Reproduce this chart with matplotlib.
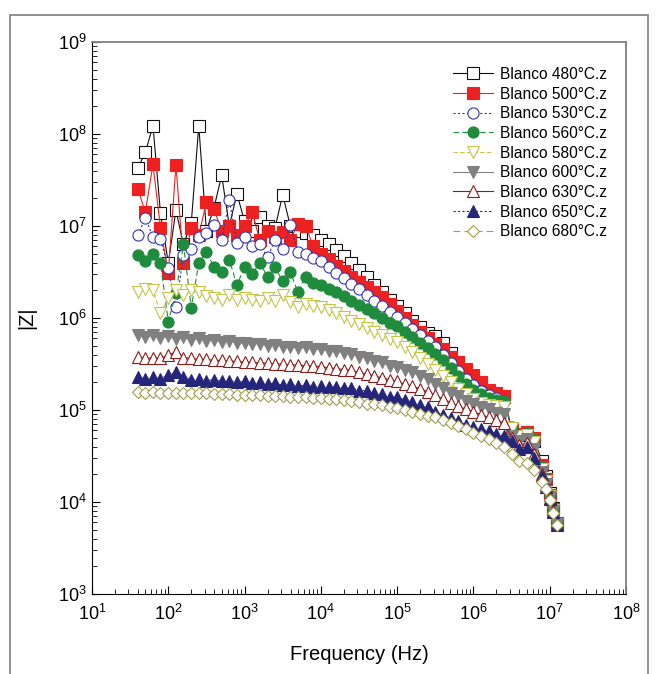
import numpy as np
import matplotlib
matplotlib.use('Agg')
import matplotlib.pyplot as plt
from matplotlib.patches import Rectangle

plt.rcParams['font.family'] = ['Liberation Sans', 'DejaVu Sans']
plt.rcParams['mathtext.default'] = 'regular'

#frequency grid (Hz), shared by all samples
freq = [40, 50, 63, 79, 100, 126, 158, 200, 251, 316, 398, 501, 631, 794,
        1.0e3, 1.26e3, 1.58e3, 2.0e3, 2.51e3, 3.16e3, 3.98e3, 5.01e3, 6.31e3, 7.94e3,
        1.0e4, 1.26e4, 1.58e4, 2.0e4, 2.51e4, 3.16e4, 3.98e4, 5.01e4, 6.31e4, 7.94e4,
        1.0e5, 1.26e5, 1.58e5, 2.0e5, 2.51e5, 3.16e5, 3.98e5, 5.01e5, 6.31e5, 7.94e5,
        1.0e6, 1.26e6, 1.58e6, 2.0e6, 2.51e6,
        3.16e6, 3.98e6, 5.01e6, 6.31e6, 7.94e6, 8.91e6, 1.0e7, 1.12e7, 1.26e7]

#log10 |Z|
z480 = [7.63, 7.80, 8.09, 7.14, 6.60, 7.17, 6.80, 7.03, 8.09, 6.95, 7.20, 7.55, 7.00, 7.35,
        7.05, 6.95, 7.10, 7.00, 6.98, 7.34, 7.00, 6.95, 6.92, 6.90,
        6.85, 6.80, 6.74, 6.67, 6.60, 6.52, 6.45, 6.36, 6.28, 6.20,
        6.13, 6.05, 5.97, 5.90, 5.84, 5.80, 5.73, 5.62, 5.52, 5.44,
        5.36, 5.27, 5.19, 5.16, 5.14,
        4.78, 4.73, 4.74, 4.66, 4.45, 4.28, 4.10, 3.93, 3.77]
z500 = [7.40, 7.15, 7.67, 6.98, 6.49, 7.66, 6.60, 6.98, 6.90, 7.26, 7.18, 6.95, 7.00, 6.90,
        7.00, 7.15, 6.85, 6.95, 6.88, 6.93, 6.85, 7.02, 7.00, 6.78,
        6.70, 6.64, 6.57, 6.51, 6.45, 6.39, 6.34, 6.28, 6.23, 6.15,
        6.08, 6.00, 5.92, 5.85, 5.78, 5.72, 5.66, 5.58, 5.52, 5.45,
        5.38, 5.30, 5.22, 5.18, 5.15,
        4.80, 4.74, 4.76, 4.70, 4.40, 4.25, 4.08, 3.92, 3.77]
z530 = [6.90, 7.09, 6.88, 6.86, 6.54, 6.12, 6.68, 6.75, 6.88, 6.92, 7.01, 6.85, 7.28, 6.82,
        6.88, 6.78, 6.80, 6.66, 6.85, 6.75, 7.01, 6.72, 6.70, 6.65,
        6.62, 6.55, 6.49, 6.43, 6.37, 6.31, 6.25, 6.19, 6.13, 6.07,
        6.01, 5.95, 5.88, 5.82, 5.75, 5.68, 5.60, 5.51, 5.42, 5.34,
        5.27, 5.21, 5.16, 5.13, 5.10,
        4.79, 4.72, 4.73, 4.66, 4.38, 4.24, 4.07, 3.91, 3.76]
z560 = [6.68, 6.62, 6.70, 6.60, 5.96, 6.27, 6.80, 6.11, 6.60, 6.72, 6.55, 6.50, 6.63, 6.36,
        6.55, 6.48, 6.60, 6.45, 6.55, 6.40, 6.50, 6.28, 6.45, 6.38,
        6.36, 6.32, 6.28, 6.24, 6.19, 6.14, 6.10, 6.05, 6.00, 5.95,
        5.91, 5.85, 5.79, 5.73, 5.67, 5.61, 5.54, 5.46, 5.37, 5.28,
        5.22, 5.17, 5.13, 5.11, 5.10,
        4.82, 4.73, 4.75, 4.68, 4.38, 4.25, 4.08, 3.92, 3.77]
z580 = [6.28, 6.32, 6.30, 6.05, 6.22, 6.30, 6.25, 6.30, 6.28, 6.24, 6.22, 6.20, 6.25, 6.20,
        6.22, 6.20, 6.18, 6.22, 6.19, 6.25, 6.17, 6.12, 6.15, 6.13,
        6.12, 6.09, 6.05, 6.01, 5.97, 5.93, 5.89, 5.85, 5.81, 5.77,
        5.74, 5.69, 5.63, 5.57, 5.50, 5.44, 5.37, 5.30, 5.23, 5.17,
        5.12, 5.08, 5.05, 5.04, 5.03,
        4.80, 4.72, 4.73, 4.65, 4.36, 4.23, 4.07, 3.91, 3.76]
z600 = [5.82, 5.79, 5.81, 5.78, 5.80, 5.77, 5.79, 5.76, 5.78, 5.75, 5.76, 5.74, 5.75, 5.73,
        5.73, 5.72, 5.72, 5.70, 5.71, 5.69, 5.69, 5.67, 5.68, 5.66,
        5.66, 5.64, 5.64, 5.62, 5.61, 5.58, 5.57, 5.53, 5.52, 5.48,
        5.47, 5.43, 5.41, 5.37, 5.34, 5.28, 5.24, 5.18, 5.15, 5.10,
        5.07, 5.03, 5.01, 4.97, 4.96,
        4.72, 4.66, 4.68, 4.58, 4.33, 4.20, 4.05, 3.90, 3.76]
z630 = [5.58, 5.56, 5.57, 5.56, 5.60, 5.63, 5.57, 5.56, 5.55, 5.55, 5.54, 5.54, 5.53, 5.53,
        5.52, 5.52, 5.51, 5.51, 5.50, 5.50, 5.49, 5.49, 5.48, 5.48,
        5.47, 5.46, 5.45, 5.44, 5.43, 5.41, 5.39, 5.37, 5.35, 5.33,
        5.31, 5.28, 5.26, 5.23, 5.20, 5.16, 5.12, 5.08, 5.04, 5.01,
        4.98, 4.95, 4.92, 4.89, 4.86,
        4.70, 4.62, 4.64, 4.52, 4.30, 4.18, 4.04, 3.90, 3.76]
z650 = [5.36, 5.34, 5.36, 5.34, 5.38, 5.41, 5.36, 5.33, 5.34, 5.32, 5.33, 5.31, 5.32, 5.30,
        5.31, 5.29, 5.30, 5.28, 5.29, 5.27, 5.28, 5.26, 5.27, 5.25,
        5.26, 5.25, 5.25, 5.24, 5.24, 5.21, 5.21, 5.18, 5.17, 5.14,
        5.14, 5.11, 5.09, 5.05, 5.03, 4.98, 4.95, 4.91, 4.88, 4.84,
        4.82, 4.79, 4.77, 4.74, 4.72,
        4.66, 4.58, 4.60, 4.48, 4.28, 4.16, 4.03, 3.89, 3.75]
z680 = [5.20, 5.19, 5.20, 5.19, 5.19, 5.18, 5.19, 5.18, 5.18, 5.18, 5.17, 5.17, 5.17, 5.16,
        5.16, 5.16, 5.16, 5.15, 5.15, 5.15, 5.14, 5.14, 5.14, 5.13,
        5.13, 5.12, 5.12, 5.11, 5.10, 5.09, 5.07, 5.06, 5.05, 5.03,
        5.02, 5.00, 4.98, 4.96, 4.94, 4.92, 4.89, 4.86, 4.83, 4.79,
        4.75, 4.72, 4.68, 4.64, 4.60,
        4.52, 4.45, 4.42, 4.35, 4.22, 4.14, 4.02, 3.88, 3.75]

labels = ['Blanco 480°C.z', 'Blanco 500°C.z', 'Blanco 530°C.z', 'Blanco 560°C.z',
          'Blanco 580°C.z', 'Blanco 600°C.z', 'Blanco 630°C.z', 'Blanco 650°C.z',
          'Blanco 680°C.z']
series = [z480, z500, z530, z560, z580, z600, z630, z650, z680]

#(marker, edge colour, face colour, line colour, line style)
styles = [('s', '#111111', 'white', '#111111', '-'),
          ('s', '#ee2020', '#ee2020', '#ee2020', '-'),
          ('o', '#3434b0', 'white', '#3434b0', (0, (2, 2))),
          ('o', '#1e8c3c', '#1e8c3c', '#1e8c3c', (0, (5, 3))),
          ('v', '#c4c44a', 'white', '#c4c44a', (0, (4, 2))),
          ('v', '#808080', '#808080', '#808080', '-'),
          ('^', '#8b1c1c', 'white', '#8b1c1c', '-'),
          ('^', '#25257a', '#25257a', '#25257a', (0, (2, 2))),
          ('D', '#9f9f50', 'white', '#9f9f50', (0, (6, 4)))]

fig = plt.figure(figsize=(6.56, 6.74), dpi=100)
ax = fig.add_axes([92/656, 1-594/674, 534/656, 552/674])

for z, lab, st in zip(series, labels, styles):
    mk, ec, fc, lc, ls = st
    ms = 6.5 if mk == 'D' else 8
    ax.plot(freq, 10**np.array(z), color=lc, linestyle=ls, linewidth=0.8,
            marker=mk, markersize=ms, markerfacecolor=fc, markeredgecolor=ec,
            markeredgewidth=0.8, label=lab)

ax.set_xscale('log')
ax.set_yscale('log')
ax.set_xlim(1e1, 1e8)
ax.set_ylim(1e3, 1e9)

ax.tick_params(which='both', direction='in', top=False, right=False, labelsize=13)
ax.tick_params(which='major', length=6)
ax.tick_params(which='minor', length=3.5)
ax.tick_params(axis='x', pad=7)
ax.tick_params(axis='y', pad=4)
for s in ['top', 'right']:
    ax.spines[s].set_color('#808080')
    ax.spines[s].set_linewidth(1.3)

ax.set_xlabel('Frequency (Hz)', fontsize=14.5)
ax.set_ylabel('|Z|', fontsize=14.5)
ax.xaxis.set_label_coords(0.5, -0.092)
ax.yaxis.set_label_coords(-0.105, 0.5)

ax.legend(loc='upper left', bbox_to_anchor=(0.676, 0.955), frameon=False, fontsize=11.2,
          numpoints=1, handlelength=2.55, handletextpad=0.5, labelspacing=0.3,
          borderpad=0, borderaxespad=0)

#grey outer frame around the whole figure
fig.patches.append(Rectangle((10/656, -0.05), 638/656, 1.05-15/674, transform=fig.transFigure,
                             fill=False, edgecolor='#888888', linewidth=1.3))

fig.savefig('out.png', dpi=100)
